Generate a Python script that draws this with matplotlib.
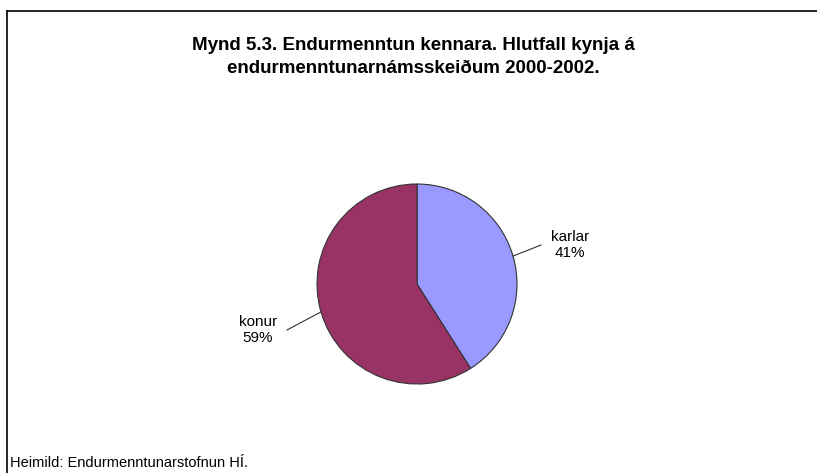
import numpy as np
import matplotlib
matplotlib.use('Agg')
from matplotlib import pyplot as plt

# data
labels = ['karlar', 'konur']
shares = [41, 59]
colors = ['#9999FF', '#993366']
title = 'Mynd 5.3. Endurmenntun kennara. Hlutfall kynja á\nendurmenntunarnámsskeiðum 2000-2002.'
source = 'Heimild: Endurmenntunarstofnun HÍ.'

plt.rcParams['font.family'] = ['Liberation Sans', 'DejaVu Sans']

W, H = 817, 473
fig = plt.figure(figsize=(W / 100, H / 100), dpi=100)

# frame lines (top and left)
fig.add_artist(plt.Line2D([7 / W, 1], [1 - 11 / H, 1 - 11 / H], color='black', lw=1.2))
fig.add_artist(plt.Line2D([7 / W, 7 / W], [0, 1 - 11 / H], color='black', lw=1.2))

fig.text(413 / W, 1 - 57 / H, title, ha='center', va='center', fontsize=13.5,
         fontweight='bold', linespacing=1.45)
fig.text(10 / W, 1 - 463 / H, source, ha='left', va='center', fontsize=10.5)

# pie axes
cx, cy, r = 417, 284, 100
ax = fig.add_axes([(cx - r) / W, (H - cy - r) / H, 2 * r / W, 2 * r / H])
wedges, _ = ax.pie(shares, colors=colors, startangle=90, counterclock=False,
                   wedgeprops=dict(edgecolor='#333333', linewidth=0.8))
ax.set_xlim(-1, 1)
ax.set_ylim(-1, 1)
ax.axis('off')

# labels with leader lines
text_pos = [(1.53, 0.39), (-1.59, -0.46)]
for w, lab, s, (tx, ty) in zip(wedges, labels, shares, text_pos):
    ang = np.deg2rad((w.theta1 + w.theta2) / 2)
    x0, y0 = np.cos(ang), np.sin(ang)
    side = 1 if x0 > 0 else -1
    ax.plot([x0, tx - side * 0.29], [y0, ty], color='#333333', lw=0.8,
            clip_on=False)
    ax.text(tx, ty, '%s\n%d%%' % (lab, s), ha='center', va='center',
            fontsize=11, linespacing=1.15)

fig.savefig('out.png', dpi=100)
